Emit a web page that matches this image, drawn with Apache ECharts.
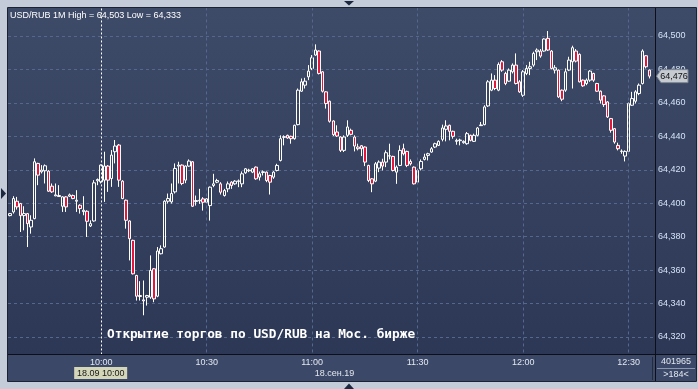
<!DOCTYPE html>
<html>
<head>
<meta charset="utf-8">
<script src="https://cdn.jsdelivr.net/npm/echarts@6/dist/echarts.min.js"></script>
<style>
html,body{margin:0;padding:0;background:#c3ccd8;}
#c{width:698px;height:389px;}
</style>
</head>
<body>
<div id="c"></div>
<script>
// ---- data ----
const startMinute = 9 * 60 + 34;   // first category 09:34
const categoryCount = 184;         // ">184<" bars in view
const times = [];
for (let k = 0; k < categoryCount; k++) {
  const m = startMinute + k;
  times.push(String(Math.floor(m / 60)).padStart(2, '0') + ':' + String(m % 60).padStart(2, '0'));
}
const tickLabels = ['10:00', '10:30', '11:00', '11:30', '12:00', '12:30'];
const sessionOpen = '10:00';
const yTicks = [64320, 64340, 64360, 64380, 64400, 64420, 64440, 64460, 64480, 64500];
// [open, close, low, high]
const ohlc = [
[64392.6,64393.8,64392.2,64394.2],[64394.8,64402.8,64393.8,64404.2],[64401.2,64397.8,64396.2,64403.8],[64399.8,64392.6,64382.8,64400.2],
[64392.6,64393.8,64383.8,64398.2],[64393.8,64387.8,64373.8,64394.2],[64385.8,64389.8,64381.8,64392.8],[64390.8,64424.8,64390.4,64426.8],
[64423.8,64416.8,64410.8,64424.2],[64418.8,64419.8,64417.8,64422.8],[64419.4,64422.4,64411.8,64423.2],[64419.2,64407.2,64406.8,64419.8],
[64410.2,64406.8,64406.2,64411.8],[64404.4,64405.0,64404.2,64411.8],[64404.6,64404.0,64403.8,64410.8],[64398.2,64403.8,64394.8,64404.2],
[64403.8,64397.8,64394.8,64404.2],[64404.2,64405.0,64403.8,64405.8],[64404.6,64402.8,64402.4,64405.2],[64401.2,64401.8,64394.8,64407.8],
[64398.8,64396.8,64393.8,64399.4],[64395.0,64395.8,64392.8,64404.2],[64395.2,64389.2,64379.8,64395.8],[64386.4,64387.8,64385.8,64389.8],
[64389.4,64412.2,64389.0,64413.8],[64413.4,64414.2,64410.8,64414.8],[64412.8,64422.8,64411.8,64423.2],[64413.8,64422.2,64400.8,64430.8],
[64422.2,64413.8,64406.8,64422.8],[64414.8,64428.8,64409.8,64431.8],[64430.8,64434.2,64423.8,64437.8],[64434.8,64413.8,64409.8,64435.4],
[64413.2,64402.8,64402.4,64413.8],[64401.8,64389.8,64384.8,64402.2],[64389.4,64378.8,64365.8,64389.8],[64377.8,64357.8,64357.4,64378.2],
[64356.8,64344.4,64341.8,64357.2],[64344.8,64344.2,64341.8,64353.4],[64342.2,64341.6,64333.0,64353.8],[64343.8,64344.8,64338.8,64345.2],
[64343.8,64359.8,64342.8,64368.8],[64360.8,64342.8,64340.8,64361.2],[64344.4,64371.4,64343.8,64373.8],[64369.8,64372.8,64369.4,64374.8],
[64373.8,64401.2,64373.4,64401.8],[64401.2,64402.8,64399.8,64405.8],[64400.8,64405.8,64399.8,64411.8],[64406.8,64420.8,64405.8,64423.8],
[64422.2,64422.8,64411.8,64424.8],[64422.8,64411.8,64410.8,64423.2],[64413.8,64422.2,64412.0,64422.6],[64422.2,64425.2,64421.8,64426.2],
[64424.8,64398.2,64397.8,64425.2],[64401.0,64401.6,64398.6,64404.6],[64401.4,64401.8,64399.6,64408.6],[64402.6,64400.6,64395.6,64403.6],
[64402.6,64400.6,64400.2,64403.0],[64398.6,64409.6,64389.6,64410.0],[64410.6,64411.6,64409.6,64417.6],[64412.6,64413.6,64412.0,64414.6],
[64411.6,64406.6,64405.2,64412.6],[64404.6,64407.6,64404.0,64408.6],[64408.6,64411.6,64406.6,64413.0],[64412.6,64410.6,64408.6,64413.2],
[64411.6,64413.2,64411.0,64413.8],[64413.0,64413.4,64409.6,64414.2],[64411.6,64417.6,64409.6,64419.0],[64418.2,64420.6,64417.6,64421.0],
[64419.4,64419.8,64418.6,64420.6],[64418.6,64420.6,64418.0,64421.0],[64421.6,64414.6,64414.0,64422.0],[64415.6,64417.6,64413.6,64419.0],
[64418.4,64418.8,64416.6,64419.6],[64418.6,64413.6,64412.6,64419.0],[64416.6,64412.6,64405.2,64417.0],[64415.6,64418.6,64414.6,64419.2],
[64419.6,64422.6,64419.0,64423.6],[64425.6,64438.6,64425.0,64440.6],[64439.4,64439.8,64434.6,64440.6],[64440.6,64439.0,64438.6,64441.0],
[64440.0,64438.6,64435.6,64440.4],[64438.6,64446.6,64438.0,64447.0],[64447.0,64467.6,64446.6,64468.6],[64467.0,64472.6,64466.6,64474.6],
[64470.6,64473.0,64468.6,64475.0],[64475.6,64479.0,64473.6,64482.6],[64480.6,64487.0,64479.6,64488.6],[64488.6,64491.6,64488.2,64495.0],
[64491.0,64477.6,64477.0,64491.4],[64478.6,64467.0,64466.2,64479.0],[64466.6,64459.6,64456.6,64467.0],[64461.0,64449.0,64448.2,64461.4],
[64449.2,64441.0,64440.2,64449.6],[64442.6,64440.2,64439.6,64446.6],[64439.6,64431.6,64430.6,64440.0],[64431.6,64439.6,64430.6,64440.6],
[64440.6,64445.6,64439.6,64449.6],[64443.6,64441.2,64440.6,64444.6],[64439.6,64434.2,64431.0,64440.6],[64433.6,64432.6,64431.6,64435.6],
[64434.4,64432.6,64428.2,64434.8],[64433.6,64424.6,64422.2,64434.0],[64422.6,64413.6,64412.6,64423.0],[64414.6,64411.6,64406.6,64415.0],
[64413.2,64423.6,64412.6,64424.6],[64421.0,64424.6,64418.6,64425.6],[64424.6,64422.2,64419.6,64426.6],[64424.6,64430.2,64421.6,64431.6],
[64428.4,64428.2,64426.2,64435.6],[64428.0,64419.6,64419.0,64428.4],[64418.6,64421.6,64411.6,64422.6],[64422.6,64431.6,64422.2,64434.6],
[64432.6,64429.6,64428.6,64435.6],[64431.0,64422.6,64421.6,64431.4],[64425.0,64423.6,64422.6,64426.2],[64421.6,64411.6,64411.2,64422.0],
[64412.6,64419.6,64411.6,64420.6],[64420.6,64425.0,64419.6,64426.2],[64426.2,64427.6,64425.6,64429.6],[64428.6,64429.6,64425.6,64430.2],
[64430.6,64432.6,64430.2,64433.6],[64433.6,64435.6,64433.0,64436.2],[64434.6,64437.0,64434.2,64437.6],[64438.2,64445.0,64437.0,64447.0],
[64444.2,64446.2,64437.0,64449.6],[64446.6,64443.0,64437.6,64447.0],[64443.0,64440.0,64438.6,64443.4],[64437.0,64437.6,64435.0,64438.6],
[64437.4,64437.8,64434.6,64438.6],[64436.2,64437.0,64435.6,64437.6],[64435.6,64441.6,64435.0,64442.6],[64440.6,64437.6,64437.0,64441.0],
[64437.0,64440.6,64436.6,64441.6],[64440.6,64445.0,64440.0,64445.6],[64446.4,64446.8,64446.2,64448.6],[64447.0,64457.6,64446.6,64458.6],
[64458.2,64472.6,64457.6,64473.6],[64467.6,64473.6,64467.0,64477.6],[64473.6,64468.6,64467.6,64476.6],[64467.6,64483.0,64467.0,64484.2],
[64484.6,64479.6,64478.6,64485.6],[64477.6,64471.6,64470.6,64478.6],[64473.0,64479.6,64472.6,64480.6],[64478.6,64482.6,64477.6,64483.6],
[64482.6,64471.6,64471.0,64489.6],[64472.6,64466.6,64466.0,64473.6],[64464.6,64478.6,64463.6,64479.6],[64477.6,64480.6,64476.6,64482.6],
[64480.6,64481.6,64476.6,64484.6],[64482.6,64489.6,64481.6,64490.6],[64490.6,64491.6,64485.6,64492.6],[64491.0,64488.0,64487.0,64492.2],
[64491.0,64498.2,64490.6,64498.6],[64498.6,64491.6,64491.0,64503.0],[64491.0,64480.6,64480.0,64491.6],[64479.6,64481.0,64477.6,64482.6],
[64479.6,64463.6,64463.0,64480.0],[64467.6,64462.2,64461.0,64468.0],[64467.6,64478.6,64466.6,64480.6],[64479.6,64485.6,64479.0,64487.6],
[64484.6,64493.0,64468.6,64494.2],[64491.0,64485.0,64484.2,64492.2],[64489.0,64472.6,64472.2,64489.6],[64473.6,64470.2,64469.6,64474.0],
[64471.6,64473.6,64470.6,64474.6],[64473.6,64479.0,64472.6,64479.6],[64477.6,64473.6,64472.6,64478.0],[64471.6,64467.0,64466.6,64472.0],
[64467.0,64461.6,64459.6,64467.4],[64464.2,64459.0,64457.6,64464.6],[64460.6,64451.6,64451.0,64461.0],[64450.6,64443.6,64442.2,64451.0],
[64444.6,64436.6,64435.6,64445.0],[64434.6,64432.6,64431.6,64436.2],[64431.0,64431.2,64429.6,64432.2],[64428.2,64431.0,64425.0,64431.6],
[64431.0,64459.6,64430.6,64460.2],[64458.6,64462.6,64458.2,64466.6],[64461.0,64466.6,64459.6,64467.6],[64465.6,64470.6,64464.6,64471.6],
[64471.6,64491.0,64471.0,64492.0],[64488.2,64481.6,64480.6,64488.6],[64479.6,64476.0,64474.6,64480.0]
];
const bottomInfoTop = '401965';
const bottomInfoBottom = '>184<';
const dateLabel = '18.сен.19';
const cursorLabel = '18.09 10:00';
const noteText = 'Открытие торгов по USD/RUB на Мос. бирже';

// ---- helpers ----
const fmt = v => (v / 1000).toFixed(3).replace('.', ',');
const hi = Math.max(...ohlc.map(d => d[3]));
const lo = Math.min(...ohlc.map(d => d[2]));
const titleText = 'USD/RUB 1M High = ' + fmt(hi) + ' Low = ' + fmt(lo);
const lastClose = ohlc[ohlc.length - 1][1];

const FONT = '"Liberation Sans", Arial, sans-serif';
const gridTop = 2.56, gridHeight = 367.9, plotBottom = 354;

const chart = echarts.init(document.getElementById('c'), null, {renderer: 'canvas'});
chart.setOption({
  backgroundColor: '#c3ccd8',
  animation: false,
  grid: {left: 8, top: gridTop, width: 647, height: gridHeight},
  xAxis: {
    type: 'category', data: times, boundaryGap: true,
    offset: -(gridTop + gridHeight - plotBottom),
    z: 10,
    axisLine: {show: false}, axisTick: {show: false}, splitLine: {show: false},
    axisLabel: {
      interval: (i, v) => tickLabels.indexOf(v) >= 0,
      color: '#e2e8f0', fontSize: 9, fontFamily: FONT, margin: 4
    }
  },
  yAxis: {
    type: 'value', position: 'right', min: 64300, max: 64520, interval: 20,
    axisLine: {show: false}, axisTick: {show: false},
    splitLine: {lineStyle: {color: '#56678c', type: [3, 3], width: 1}},
    axisLabel: {
      formatter: v => (yTicks.indexOf(v) >= 0 ? fmt(v) : ''),
      color: '#d4e2f6', fontSize: 9, fontFamily: FONT, margin: 3
    }
  },
  series: [{
    type: 'candlestick',
    data: ohlc,
    barWidth: 3,
    itemStyle: {
      color: 'rgba(0,0,0,0)', color0: '#e3173c',
      borderColor: '#ffffff', borderColor0: '#ffffff', borderWidth: 1
    },
    markLine: {
      silent: true, symbol: 'none', animation: false,
      label: {show: false},
      data: tickLabels.map(t => t === sessionOpen
        ? {xAxis: t, lineStyle: {color: '#ffffff', type: [2, 2], width: 1}}
        : {xAxis: t, lineStyle: {color: '#56678c', type: [3, 3], width: 1}})
    }
  }]
});

const yLast = chart.convertToPixel({yAxisIndex: 0}, lastClose);
const xOpen = chart.convertToPixel({xAxisIndex: 0}, sessionOpen);

const grad = new echarts.graphic.LinearGradient(0, 0, 0, 1, [
  {offset: 0, color: '#3e4b68'}, {offset: 1, color: '#2b3655'}
]);

chart.setOption({
  graphic: {elements: [
    {type: 'rect', z: -10, silent: true, shape: {x: 8, y: 8, width: 688, height: 373}, style: {fill: grad}},
    // top frame
    {type: 'rect', z: 5, silent: true, shape: {x: 0, y: 0, width: 698, height: 8}, style: {fill: '#c3ccd8'}},
    // bottom panel
    {type: 'rect', z: 5, silent: true, shape: {x: 8, y: 354, width: 688, height: 27}, style: {fill: '#3c4867'}},
    {type: 'rect', z: 5, silent: true, shape: {x: 0, y: 381, width: 698, height: 8}, style: {fill: '#c3ccd8'}},
    {type: 'line', z: 6, silent: true, shape: {x1: 8, y1: 354.5, x2: 696, y2: 354.5}, style: {stroke: '#0c0f18', lineWidth: 1}},
    {type: 'line', z: 6, silent: true, shape: {x1: 655.5, y1: 8, x2: 655.5, y2: 381}, style: {stroke: '#0c0f18', lineWidth: 1}},
    {type: 'line', z: 6, silent: true, shape: {x1: 652.5, y1: 357, x2: 652.5, y2: 380}, style: {stroke: '#232b3e', lineWidth: 1}},
    {type: 'line', z: 6, silent: true, shape: {x1: 657, y1: 368.5, x2: 695, y2: 368.5}, style: {stroke: '#8a96ab', lineWidth: 1}},
    {type: 'rect', z: 6, silent: true, shape: {x: 7.5, y: 7.5, width: 689, height: 374}, style: {fill: null, stroke: '#1b2232', lineWidth: 1}},
    // texts
    {type: 'text', z: 7, silent: true, style: {text: titleText, x: 10, y: 15.5, fill: '#ffffff', font: '9px ' + FONT, verticalAlign: 'middle', textVerticalAlign: 'middle'}},
    {type: 'text', z: 7, silent: true, style: {text: noteText, x: 107, y: 334.5, fill: '#ffffff', font: 'bold 12.8px "DejaVu Sans Mono", monospace', verticalAlign: 'middle', textVerticalAlign: 'middle'}},
    {type: 'text', z: 7, silent: true, style: {text: bottomInfoTop, x: 676, y: 362, fill: '#e2e8f0', font: '9px ' + FONT, align: 'center', textAlign: 'center', verticalAlign: 'middle', textVerticalAlign: 'middle'}},
    {type: 'text', z: 7, silent: true, style: {text: bottomInfoBottom, x: 676, y: 374.5, fill: '#e2e8f0', font: '9px ' + FONT, align: 'center', textAlign: 'center', verticalAlign: 'middle', textVerticalAlign: 'middle'}},
    {type: 'text', z: 7, silent: true, style: {text: dateLabel, x: 334.5, y: 373.5, fill: '#e2e8f0', font: '9px ' + FONT, align: 'center', textAlign: 'center', verticalAlign: 'middle', textVerticalAlign: 'middle'}},
    {type: 'rect', z: 7, silent: true, shape: {x: xOpen - 27, y: 367, width: 53, height: 12}, style: {fill: '#d3d6b8'}},
    {type: 'text', z: 8, silent: true, style: {text: cursorLabel, x: xOpen - 0.5, y: 373.2, fill: '#161616', font: '9px ' + FONT, align: 'center', textAlign: 'center', verticalAlign: 'middle', textVerticalAlign: 'middle'}},
    // last price tag
    {type: 'polygon', z: 8, silent: true, shape: {points: [[656.5, yLast], [661, yLast - 6.5], [688, yLast - 6.5], [688, yLast + 6.5], [661, yLast + 6.5]]}, style: {fill: '#c6cbd2', stroke: '#7d8591', lineWidth: 1}},
    {type: 'text', z: 9, silent: true, style: {text: fmt(lastClose), x: 674, y: yLast, fill: '#101010', font: '9px ' + FONT, align: 'center', textAlign: 'center', verticalAlign: 'middle', textVerticalAlign: 'middle'}},
    // triangles
    {type: 'polygon', z: 9, silent: true, shape: {points: [[344, 1], [354, 1], [349, 5.5]]}, style: {fill: '#1c2740'}},
    {type: 'polygon', z: 9, silent: true, shape: {points: [[1, 188], [1, 199], [6, 193.5]]}, style: {fill: '#1c2740'}},
    {type: 'polygon', z: 9, silent: true, shape: {points: [[344, 389], [354, 389], [349, 383.5]]}, style: {fill: '#1c2740'}}
  ]}
});
</script>
</body>
</html>
